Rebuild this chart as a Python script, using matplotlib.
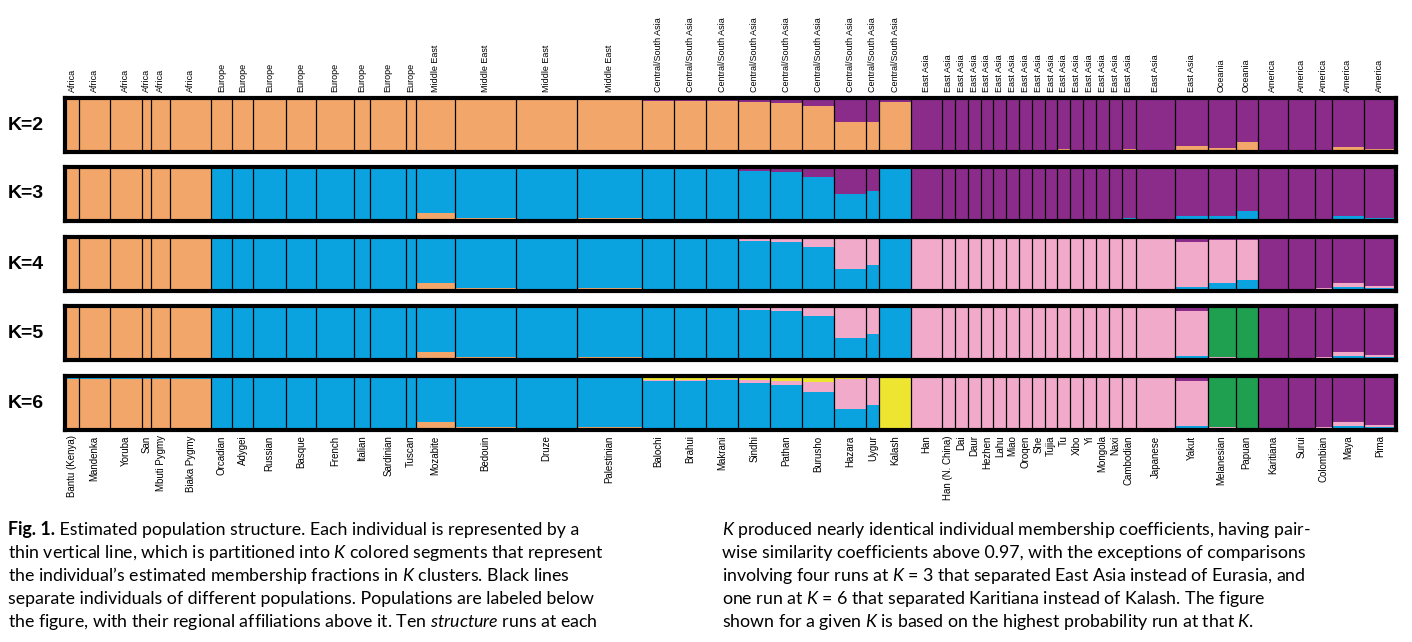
import matplotlib
matplotlib.use("Agg")
import matplotlib.pyplot as plt
import numpy as np

plt.rcParams['font.family'] = ['Liberation Sans', 'DejaVu Sans']
plt.rcParams['mathtext.fontset'] = 'custom'
plt.rcParams['mathtext.it'] = 'Lato:italic'
plt.rcParams['mathtext.rm'] = 'Lato'

pops = ["Bantu (Kenya)", "Mandenka", "Yoruba", "San", "Mbuti Pygmy", "Biaka Pygmy",
        "Orcadian", "Adygei", "Russian", "Basque", "French", "Italian", "Sardinian", "Tuscan",
        "Mozabite", "Bedouin", "Druze", "Palestinian",
        "Balochi", "Brahui", "Makrani", "Sindhi", "Pathan", "Burusho", "Hazara", "Uygur", "Kalash",
        "Han", "Han (N. China)", "Dai", "Daur", "Hezhen", "Lahu", "Miao", "Oroqen", "She", "Tujia",
        "Tu", "Xibo", "Yi", "Mongola", "Naxi", "Cambodian", "Japanese", "Yakut",
        "Melanesian", "Papuan",
        "Karitiana", "Surui", "Colombian", "Maya", "Pima"]
regions = (["Africa"] * 6 + ["Europe"] * 8 + ["Middle East"] * 4 + ["Central/South Asia"] * 9
           + ["East Asia"] * 18 + ["Oceania"] * 2 + ["America"] * 5)
sizes = [11, 24, 25, 7, 15, 32,
         16, 17, 25, 24, 29, 13, 28, 8,
         30, 48, 47, 51,
         25, 25, 25, 25, 25, 25, 25, 10, 25,
         24, 10, 10, 10, 10, 10, 10, 10, 10, 10, 10, 10, 10, 10, 10, 11, 31, 25,
         22, 17,
         24, 21, 13, 25, 25]

# cluster colours, stacked bottom->top: orange, blue, pink, green, yellow, purple(remainder)
colors = ["#F2A66A", "#0AA3E0", "#F2AACB", "#1FA050", "#EEE530"]
purple = "#8B2C8B"

# K=2: orange
K2 = [.99, .99, .99, .98, .98, .99,
      .97, .96, .96, .97, .97, .97, .97, .97,
      .98, .97, .97, .97,
      .95, .95, .94, .92, .90, .85, .55, .55, .93,
      .04, .04, .04, .04, .04, .04, .04, .04, .04, .04, .05, .04, .04, .04, .04, .06, .03, .12,
      .07, .18,
      .01, .01, .03, .10, .06]
# K=3: orange, blue
K3 = [(.96, .03)] * 6 + [(.01, .97)] * 8 + [
      (.15, .83), (.06, .92), (.02, .96), (.06, .92),
      (.01, .95), (.01, .95), (.04, .93), (.01, .92), (.01, .90), (.01, .80), (0, .50), (0, .55), (0, .97)] + \
     [(0, .03)] * 15 + [(0, .05), (0, .03), (0, .10),
      (0, .10), (0, .18),
      (0, .01), (0, .01), (0, .03), (0, .10), (0, .06)]
# K=4: orange, blue, pink
K4 = [(.96, .03, 0)] * 6 + [(.01, .97, .01)] * 8 + [
      (.15, .83, 0), (.06, .92, .01), (.02, .96, .01), (.06, .92, .01),
      (.01, .95, .02), (.01, .95, .02), (.04, .92, .02), (.01, .92, .05), (.01, .90, .08),
      (.01, .80, .17), (0, .40, .57), (0, .48, .50), (0, .98, 0)] + \
     [(0, .01, .98)] * 15 + [(0, .03, .96), (0, .01, .98), (0, .08, .82),
      (0, .15, .80), (0, .20, .75),
      (0, 0, .01), (0, 0, .01), (0, .03, .03), (0, .08, .06), (0, .05, .04)]
# K=5: orange, blue, pink, green
K5 = [(.96, .02, 0, .01)] * 6 + [(.01, .97, .01, 0)] * 8 + [
      (.15, .83, 0, 0), (.06, .92, .01, 0), (.02, .96, .01, 0), (.06, .92, .01, 0),
      (.01, .95, .02, 0), (.01, .95, .02, 0), (.04, .92, .02, 0), (.01, .92, .05, 0), (.01, .90, .08, 0),
      (.01, .80, .17, 0), (0, .40, .57, 0), (0, .48, .50, 0), (0, .98, 0, 0)] + \
     [(0, .01, .98, 0)] * 15 + [(0, .03, .96, 0), (0, .01, .98, 0), (0, .08, .82, 0),
      (0, .03, .02, .95), (0, .02, .02, .96),
      (0, 0, .01, 0), (0, 0, .01, 0), (0, .03, .03, 0), (0, .08, .06, 0), (0, .05, .04, 0)]
# K=6: orange, blue, pink, green, yellow
K6 = [(.95, .02, 0, .01, .01)] * 6 + [(.01, .95, .01, 0, .02)] * 8 + [
      (.15, .82, 0, 0, .01), (.06, .91, .01, 0, .01), (.02, .95, .01, 0, .01), (.06, .91, .01, 0, .01),
      (.01, .90, .02, 0, .05), (.01, .90, .02, 0, .05), (.04, .88, .02, 0, .04), (.01, .86, .05, 0, .06),
      (.01, .82, .08, 0, .08), (.01, .70, .17, 0, .10), (0, .38, .57, 0, .03), (0, .46, .50, 0, .02),
      (0, .03, 0, 0, .95)] + \
     [(0, .01, .98, 0, 0)] * 15 + [(0, .03, .96, 0, 0), (0, .01, .98, 0, 0), (0, .08, .82, 0, 0),
      (0, .03, .02, .95, 0), (0, .02, .02, .96, 0),
      (0, 0, .01, 0, 0), (0, 0, .01, 0, 0), (0, .03, .03, 0, 0), (0, .08, .06, 0, 0), (0, .05, .04, 0, 0)]

data = {2: [(v,) for v in K2], 3: K3, 4: K4, 5: K5, 6: K6}

W, H = 1412, 642
fig = plt.figure(figsize=(W / 100, H / 100), dpi=100)
sizes_a = np.array(sizes, float)
starts = np.concatenate([[0], np.cumsum(sizes_a)[:-1]])
total = sizes_a.sum()
centers = starts + sizes_a / 2

tops = [98, 167, 237, 306, 376]
ph = 54
x0, x1 = 65, 1396
for r, K in enumerate([2, 3, 4, 5, 6]):
    ax = fig.add_axes([x0 / W, 1 - (tops[r] + ph) / H, (x1 - x0) / W, ph / H])
    vals = np.array(data[K], float)
    bottom = np.zeros(len(pops))
    for c in range(vals.shape[1]):
        ax.bar(starts, vals[:, c], width=sizes_a, bottom=bottom, align='edge',
               color=colors[c], linewidth=0)
        bottom += vals[:, c]
    ax.bar(starts, 1 - bottom, width=sizes_a, bottom=bottom, align='edge', color=purple, linewidth=0)
    ax.vlines(starts[1:], 0, 1, color='black', lw=0.9)
    ax.set_xlim(0, total)
    ax.set_ylim(0, 1)
    ax.set_xticks([]); ax.set_yticks([])
    for s in ax.spines.values():
        s.set_linewidth(3)
    fig.text(8 / W, 1 - (tops[r] + ph / 2) / H, f"K={K}", fontsize=14, fontweight='bold',
             va='center', ha='left')
    if r == 0:
        for cx, reg in zip(centers, regions):
            ax.text(cx, 1.12, reg, rotation=90, ha='center', va='bottom', fontsize=6.5,
                    transform=ax.get_xaxis_transform())
    if r == 4:
        for cx, p in zip(centers, pops):
            ax.text(cx, -0.1, p, rotation=90, ha='center', va='top', fontsize=7,
                    transform=ax.get_xaxis_transform())

left_lines = [
    None,
    "thin vertical line, which is partitioned into $K$ colored segments that represent",
    "the individual\u2019s estimated membership fractions in $K$ clusters. Black lines",
    "separate individuals of different populations. Populations are labeled below",
    "the figure, with their regional affiliations above it. Ten $structure$ runs at each",
]
right_lines = [
    "$K$ produced nearly identical individual membership coefficients, having pair-",
    "wise similarity coefficients above 0.97, with the exceptions of comparisons",
    "involving four runs at $K$ = 3 that separated East Asia instead of Eurasia, and",
    "one run at $K$ = 6 that separated Karitiana instead of Kalash. The figure",
    "shown for a given $K$ is based on the highest probability run at that $K$.",
]
fs = 12.8
ys = [530, 553, 576, 599, 622]
t = fig.text(8 / W, 1 - ys[0] / H, "Fig. 1.", fontsize=fs, fontweight='bold', va='center',
             family='Lato')
fig.text(0, 0, " Estimated population structure. Each individual is represented by a",
         fontsize=fs, va='center', family='Lato', transform=t.get_transform())
txt2 = fig.texts[-1]
txt2.remove()
ann = plt.annotate(" Estimated population structure. Each individual is represented by a",
                   xy=(1, 0.5), xycoords=t, va='center', ha='left', fontsize=fs, family='Lato')
fig.add_artist(ann) if ann.figure is None else None
for y, line in zip(ys[1:], left_lines[1:]):
    fig.text(8 / W, 1 - y / H, line, fontsize=fs, va='center', family='Lato')
for y, line in zip(ys, right_lines):
    fig.text(722 / W, 1 - y / H, line, fontsize=fs, va='center', family='Lato')

fig.savefig("out.png", dpi=100)
